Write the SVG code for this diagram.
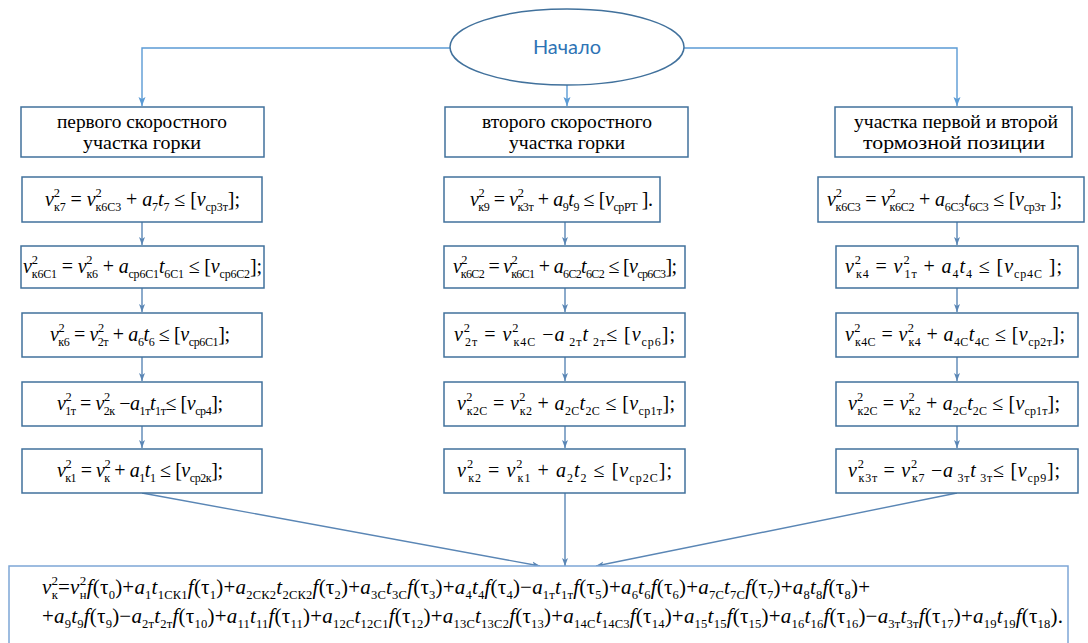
<svg xmlns="http://www.w3.org/2000/svg" width="1088" height="643" viewBox="0 0 1088 643">
<style>
.bx{fill:#fff;stroke:#41719c;stroke-width:1.5}
.hd{font-family:'Liberation Serif','DejaVu Serif','Noto Serif',serif;font-size:19px;fill:#000;text-anchor:middle}
.m{font-family:'Liberation Serif','DejaVu Serif','Noto Serif',serif;font-size:20px;fill:#000}
.mb{font-family:'Liberation Serif','DejaVu Serif','Noto Serif',serif;font-size:21px;fill:#000}
.i{font-style:italic}
.b{font-size:0.6em}
.p{font-size:0.62em}
.c1{fill:none;stroke:#5b9bd5;stroke-width:1.4}
.c2{fill:none;stroke:#5a86b5;stroke-width:1.4}
</style>
<defs>
<marker id="a1" markerWidth="10" markerHeight="8" refX="9" refY="4" orient="auto" markerUnits="userSpaceOnUse"><path d="M0,0.5 L9,4 L0,7.5 L2,4 z" fill="#5b9bd5"/></marker>
<marker id="a2" markerWidth="9" markerHeight="7" refX="8" refY="3.5" orient="auto" markerUnits="userSpaceOnUse"><path d="M0,0.5 L8,3.5 L0,6.5 L2,3.5 z" fill="#5a86b5"/></marker>
</defs>

<g id="connectors">
<path class="c1" d="M450,48 H142 V106" marker-end="url(#a1)"/>
<path class="c1" d="M567,85 V106" marker-end="url(#a1)"/>
<path class="c1" d="M684,48 H957 V106" marker-end="url(#a1)"/>
<path class="c2" d="M142,222 V245" marker-end="url(#a2)"/>
<path class="c2" d="M142,288 V312" marker-end="url(#a2)"/>
<path class="c2" d="M142,357 V381" marker-end="url(#a2)"/>
<path class="c2" d="M142,426 V448" marker-end="url(#a2)"/>
<path class="c2" d="M565,222 V245" marker-end="url(#a2)"/>
<path class="c2" d="M565,288 V312" marker-end="url(#a2)"/>
<path class="c2" d="M565,357 V381" marker-end="url(#a2)"/>
<path class="c2" d="M565,426 V448" marker-end="url(#a2)"/>
<path class="c2" d="M957,222 V245" marker-end="url(#a2)"/>
<path class="c2" d="M957,288 V312" marker-end="url(#a2)"/>
<path class="c2" d="M957,357 V381" marker-end="url(#a2)"/>
<path class="c2" d="M957,426 V448" marker-end="url(#a2)"/>
<path class="c2" d="M142,493 L540,566" marker-end="url(#a2)"/>
<path class="c2" d="M565,493 V566" marker-end="url(#a2)"/>
<path class="c2" d="M957,493 L596,566" marker-end="url(#a2)"/>
</g>

<g id="start">
<ellipse cx="567" cy="47" rx="117" ry="38" fill="#fff" stroke="#41719c" stroke-width="1.5"/>
<text x="567" y="54" text-anchor="middle" font-family="Lato,'Open Sans',sans-serif" font-size="20" fill="#2e74b5">Начало</text>
</g>

<g id="h1"><rect class="bx" x="21" y="107" width="243" height="50"/>
<text class="hd" x="142" y="128" textLength="170" lengthAdjust="spacingAndGlyphs">первого скоростного</text>
<text class="hd" x="142" y="149" textLength="118" lengthAdjust="spacingAndGlyphs">участка горки</text></g>
<g id="h2"><rect class="bx" x="445" y="107" width="243" height="50"/>
<text class="hd" x="567" y="128" textLength="170" lengthAdjust="spacingAndGlyphs">второго скоростного</text>
<text class="hd" x="567" y="149" textLength="116" lengthAdjust="spacingAndGlyphs">участка горки</text></g>
<g id="h3"><rect class="bx" x="835" y="107" width="237" height="50"/>
<text class="hd" x="956" y="128" textLength="204" lengthAdjust="spacingAndGlyphs">участка первой и второй</text>
<text class="hd" x="954" y="149" textLength="182" lengthAdjust="spacingAndGlyphs">тормозной позиции</text></g>

<g id="L1"><rect class="bx" x="22" y="177" width="240" height="45"/>
<text class="m" x="45" y="206" textLength="195"><tspan class="i">v</tspan><tspan class="p" dy="-9">2</tspan><tspan class="b" dx="-6" dy="14">к7</tspan><tspan dy="-5"> = </tspan><tspan class="i">v</tspan><tspan class="p" dy="-9">2</tspan><tspan class="b" dx="-6" dy="14">к6С3</tspan><tspan dy="-5"> + </tspan><tspan class="i">a</tspan><tspan class="b" dy="5">7</tspan><tspan class="i" dy="-5">t</tspan><tspan class="b" dy="5">7</tspan><tspan dy="-5"> ≤ [</tspan><tspan class="i">v</tspan><tspan class="b" dy="5">ср3т</tspan><tspan dy="-5">];</tspan></text></g>

<g id="L2"><rect class="bx" x="21" y="246" width="243" height="42"/>
<text class="m" x="23" y="273" textLength="239"><tspan class="i">v</tspan><tspan class="p" dy="-9">2</tspan><tspan class="b" dx="-6" dy="14">к6С1</tspan><tspan dy="-5"> = </tspan><tspan class="i">v</tspan><tspan class="p" dy="-9">2</tspan><tspan class="b" dx="-6" dy="14">к6</tspan><tspan dy="-5"> + </tspan><tspan class="i">a</tspan><tspan class="b" dy="5">ср6С1</tspan><tspan class="i" dy="-5">t</tspan><tspan class="b" dy="5">6С1</tspan><tspan dy="-5"> ≤ [</tspan><tspan class="i">v</tspan><tspan class="b" dy="5">ср6С2</tspan><tspan dy="-5">];</tspan></text></g>

<g id="L3"><rect class="bx" x="22" y="313" width="240" height="44"/>
<text class="m" x="50" y="341" textLength="180"><tspan class="i">v</tspan><tspan class="p" dy="-9">2</tspan><tspan class="b" dx="-6" dy="14">к6</tspan><tspan dy="-5"> = </tspan><tspan class="i">v</tspan><tspan class="p" dy="-9">2</tspan><tspan class="b" dx="-6" dy="14">2т</tspan><tspan dy="-5"> + </tspan><tspan class="i">a</tspan><tspan class="b" dy="5">6</tspan><tspan class="i" dy="-5">t</tspan><tspan class="b" dy="5">6</tspan><tspan dy="-5"> ≤ [</tspan><tspan class="i">v</tspan><tspan class="b" dy="5">ср6С1</tspan><tspan dy="-5">];</tspan></text></g>

<g id="L4"><rect class="bx" x="22" y="382" width="240" height="44"/>
<text class="m" x="57" y="410" textLength="166"><tspan class="i">v</tspan><tspan class="p" dy="-9">2</tspan><tspan class="b" dx="-6" dy="14">1т</tspan><tspan dy="-5"> = </tspan><tspan class="i">v</tspan><tspan class="p" dy="-9">2</tspan><tspan class="b" dx="-6" dy="14">2к</tspan><tspan dy="-5"> −</tspan><tspan class="i">a</tspan><tspan class="b" dy="5">1т</tspan><tspan class="i" dy="-5">t</tspan><tspan class="b" dy="5">1т</tspan><tspan dy="-5">≤ [</tspan><tspan class="i">v</tspan><tspan class="b" dy="5">ср4</tspan><tspan dy="-5">];</tspan></text></g>

<g id="L5"><rect class="bx" x="22" y="449" width="240" height="44"/>
<text class="m" x="57" y="477" textLength="166"><tspan class="i">v</tspan><tspan class="p" dy="-9">2</tspan><tspan class="b" dx="-6" dy="14">к1</tspan><tspan dy="-5"> = </tspan><tspan class="i">v</tspan><tspan class="p" dy="-9">2</tspan><tspan class="b" dx="-6" dy="14">к</tspan><tspan dy="-5"> + </tspan><tspan class="i">a</tspan><tspan class="b" dy="5">1</tspan><tspan class="i" dy="-5">t</tspan><tspan class="b" dy="5">1</tspan><tspan dy="-5"> ≤ [</tspan><tspan class="i">v</tspan><tspan class="b" dy="5">ср2к</tspan><tspan dy="-5">];</tspan></text></g>

<g id="M1"><rect class="bx" x="444" y="177" width="216" height="45"/>
<text class="m" x="470" y="206" textLength="183"><tspan class="i">v</tspan><tspan class="p" dy="-9">2</tspan><tspan class="b" dx="-6" dy="14">к9</tspan><tspan dy="-5"> = </tspan><tspan class="i">v</tspan><tspan class="p" dy="-9">2</tspan><tspan class="b" dx="-6" dy="14">к3т</tspan><tspan dy="-5"> + </tspan><tspan class="i">a</tspan><tspan class="b" dy="5">9</tspan><tspan class="i" dy="-5">t</tspan><tspan class="b" dy="5">9</tspan><tspan dy="-5"> ≤ [</tspan><tspan class="i">v</tspan><tspan class="b" dy="5">срРТ</tspan><tspan dy="-5"> ].</tspan></text></g>

<g id="M2"><rect class="bx" x="444" y="246" width="241" height="42"/>
<text class="m" x="453" y="273" textLength="224"><tspan class="i">v</tspan><tspan class="p" dy="-9">2</tspan><tspan class="b" dx="-6" dy="14">к6С2</tspan><tspan dy="-5"> = </tspan><tspan class="i">v</tspan><tspan class="p" dy="-9">2</tspan><tspan class="b" dx="-6" dy="14">к6С1</tspan><tspan dy="-5"> + </tspan><tspan class="i">a</tspan><tspan class="b" dy="5">6С2</tspan><tspan class="i" dy="-5">t</tspan><tspan class="b" dy="5">6С2</tspan><tspan dy="-5"> ≤ [</tspan><tspan class="i">v</tspan><tspan class="b" dy="5">ср6С3</tspan><tspan dy="-5">];</tspan></text></g>

<g id="M3"><rect class="bx" x="444" y="313" width="241" height="44"/>
<text class="m" x="454" y="341" textLength="221"><tspan class="i">v</tspan><tspan class="p" dy="-9">2</tspan><tspan class="b" dx="-6" dy="14">2т</tspan><tspan dy="-5"> = </tspan><tspan class="i">v</tspan><tspan class="p" dy="-9">2</tspan><tspan class="b" dx="-6" dy="14">к4С</tspan><tspan dy="-5"> −</tspan><tspan class="i">a</tspan><tspan class="b" dy="5"> 2т</tspan><tspan class="i" dy="-5">t</tspan><tspan class="b" dy="5"> 2т</tspan><tspan dy="-5">≤ [</tspan><tspan class="i">v</tspan><tspan class="b" dy="5">ср6</tspan><tspan dy="-5">];</tspan></text></g>

<g id="M4"><rect class="bx" x="444" y="382" width="241" height="44"/>
<text class="m" x="457" y="410" textLength="218"><tspan class="i">v</tspan><tspan class="p" dy="-9">2</tspan><tspan class="b" dx="-6" dy="14">к2С</tspan><tspan dy="-5"> = </tspan><tspan class="i">v</tspan><tspan class="p" dy="-9">2</tspan><tspan class="b" dx="-6" dy="14">к2</tspan><tspan dy="-5"> + </tspan><tspan class="i">a</tspan><tspan class="b" dy="5">2С</tspan><tspan class="i" dy="-5">t</tspan><tspan class="b" dy="5">2С</tspan><tspan dy="-5"> ≤ [</tspan><tspan class="i">v</tspan><tspan class="b" dy="5">ср1т</tspan><tspan dy="-5">];</tspan></text></g>

<g id="M5"><rect class="bx" x="444" y="449" width="241" height="44"/>
<text class="m" x="457" y="477" textLength="215"><tspan class="i">v</tspan><tspan class="p" dy="-9">2</tspan><tspan class="b" dx="-6" dy="14">к2</tspan><tspan dy="-5"> = </tspan><tspan class="i">v</tspan><tspan class="p" dy="-9">2</tspan><tspan class="b" dx="-6" dy="14">к1</tspan><tspan dy="-5"> + </tspan><tspan class="i">a</tspan><tspan class="b" dy="5">2</tspan><tspan class="i" dy="-5">t</tspan><tspan class="b" dy="5">2</tspan><tspan dy="-5"> ≤ [</tspan><tspan class="i">v</tspan><tspan class="b" dy="5">ср2С</tspan><tspan dy="-5">];</tspan></text></g>

<g id="R1"><rect class="bx" x="818" y="177" width="266" height="45"/>
<text class="m" x="827" y="206" textLength="235"><tspan class="i">v</tspan><tspan class="p" dy="-9">2</tspan><tspan class="b" dx="-6" dy="14">к6С3</tspan><tspan dy="-5"> = </tspan><tspan class="i">v</tspan><tspan class="p" dy="-9">2</tspan><tspan class="b" dx="-6" dy="14">к6С2</tspan><tspan dy="-5"> + </tspan><tspan class="i">a</tspan><tspan class="b" dy="5">6С3</tspan><tspan class="i" dy="-5">t</tspan><tspan class="b" dy="5">6С3</tspan><tspan dy="-5"> ≤ [</tspan><tspan class="i">v</tspan><tspan class="b" dy="5">ср3т</tspan><tspan dy="-5"> ];</tspan></text></g>

<g id="R2"><rect class="bx" x="836" y="246" width="242" height="42"/>
<text class="m" x="845" y="273" textLength="217"><tspan class="i">v</tspan><tspan class="p" dy="-9">2</tspan><tspan class="b" dx="-6" dy="14">к4</tspan><tspan dy="-5"> = </tspan><tspan class="i">v</tspan><tspan class="p" dy="-9">2</tspan><tspan class="b" dx="-6" dy="14">1т</tspan><tspan dy="-5"> + </tspan><tspan class="i">a</tspan><tspan class="b" dy="5">4</tspan><tspan class="i" dy="-5">t</tspan><tspan class="b" dy="5">4</tspan><tspan dy="-5"> ≤ [</tspan><tspan class="i">v</tspan><tspan class="b" dy="5">ср4С</tspan><tspan dy="-5"> ];</tspan></text></g>

<g id="R3"><rect class="bx" x="836" y="313" width="242" height="44"/>
<text class="m" x="845" y="341" textLength="220"><tspan class="i">v</tspan><tspan class="p" dy="-9">2</tspan><tspan class="b" dx="-6" dy="14">к4С</tspan><tspan dy="-5"> = </tspan><tspan class="i">v</tspan><tspan class="p" dy="-9">2</tspan><tspan class="b" dx="-6" dy="14">к4</tspan><tspan dy="-5"> + </tspan><tspan class="i">a</tspan><tspan class="b" dy="5">4С</tspan><tspan class="i" dy="-5">t</tspan><tspan class="b" dy="5">4С</tspan><tspan dy="-5"> ≤ [</tspan><tspan class="i">v</tspan><tspan class="b" dy="5">ср2т</tspan><tspan dy="-5">];</tspan></text></g>

<g id="R4"><rect class="bx" x="836" y="382" width="242" height="44"/>
<text class="m" x="848" y="410" textLength="212"><tspan class="i">v</tspan><tspan class="p" dy="-9">2</tspan><tspan class="b" dx="-6" dy="14">к2С</tspan><tspan dy="-5"> = </tspan><tspan class="i">v</tspan><tspan class="p" dy="-9">2</tspan><tspan class="b" dx="-6" dy="14">к2</tspan><tspan dy="-5"> + </tspan><tspan class="i">a</tspan><tspan class="b" dy="5">2С</tspan><tspan class="i" dy="-5">t</tspan><tspan class="b" dy="5">2С</tspan><tspan dy="-5"> ≤ [</tspan><tspan class="i">v</tspan><tspan class="b" dy="5">ср1т</tspan><tspan dy="-5">];</tspan></text></g>

<g id="R5"><rect class="bx" x="836" y="449" width="242" height="44"/>
<text class="m" x="848" y="477" textLength="212"><tspan class="i">v</tspan><tspan class="p" dy="-9">2</tspan><tspan class="b" dx="-6" dy="14">к3т</tspan><tspan dy="-5"> = </tspan><tspan class="i">v</tspan><tspan class="p" dy="-9">2</tspan><tspan class="b" dx="-6" dy="14">к7</tspan><tspan dy="-5"> −</tspan><tspan class="i">a</tspan><tspan class="b" dy="5"> 3т</tspan><tspan class="i" dy="-5">t</tspan><tspan class="b" dy="5"> 3т</tspan><tspan dy="-5">≤ [</tspan><tspan class="i">v</tspan><tspan class="b" dy="5">ср9</tspan><tspan dy="-5">];</tspan></text></g>

<g id="result"><rect x="9" y="566" width="1059" height="90" fill="#fff" stroke="#7ea6d6" stroke-width="1.5"/>
<text class="mb" x="42" y="594" textLength="828"><tspan class="i">v</tspan><tspan class="p" dy="-9">2</tspan><tspan class="b" dx="-6.5" dy="14">к</tspan><tspan dy="-5">=</tspan><tspan class="i">v</tspan><tspan class="p" dy="-9">2</tspan><tspan class="b" dx="-6.5" dy="14">н</tspan><tspan class="i" dy="-5">f</tspan><tspan>(τ</tspan><tspan class="b" dy="5">0</tspan><tspan dy="-5">)+</tspan><tspan class="i">a</tspan><tspan class="b" dy="5">1</tspan><tspan class="i" dy="-5">t</tspan><tspan class="b" dy="5">1СК1</tspan><tspan class="i" dy="-5">f</tspan><tspan>(τ</tspan><tspan class="b" dy="5">1</tspan><tspan dy="-5">)+</tspan><tspan class="i">a</tspan><tspan class="b" dy="5">2СК2</tspan><tspan class="i" dy="-5">t</tspan><tspan class="b" dy="5">2СК2</tspan><tspan class="i" dy="-5">f</tspan><tspan>(τ</tspan><tspan class="b" dy="5">2</tspan><tspan dy="-5">)+</tspan><tspan class="i">a</tspan><tspan class="b" dy="5">3С</tspan><tspan class="i" dy="-5">t</tspan><tspan class="b" dy="5">3С</tspan><tspan class="i" dy="-5">f</tspan><tspan>(τ</tspan><tspan class="b" dy="5">3</tspan><tspan dy="-5">)+</tspan><tspan class="i">a</tspan><tspan class="b" dy="5">4</tspan><tspan class="i" dy="-5">t</tspan><tspan class="b" dy="5">4</tspan><tspan class="i" dy="-5">f</tspan><tspan>(τ</tspan><tspan class="b" dy="5">4</tspan><tspan dy="-5">)−</tspan><tspan class="i">a</tspan><tspan class="b" dy="5">1т</tspan><tspan class="i" dy="-5">t</tspan><tspan class="b" dy="5">1т</tspan><tspan class="i" dy="-5">f</tspan><tspan>(τ</tspan><tspan class="b" dy="5">5</tspan><tspan dy="-5">)+</tspan><tspan class="i">a</tspan><tspan class="b" dy="5">6</tspan><tspan class="i" dy="-5">t</tspan><tspan class="b" dy="5">6</tspan><tspan class="i" dy="-5">f</tspan><tspan>(τ</tspan><tspan class="b" dy="5">6</tspan><tspan dy="-5">)+</tspan><tspan class="i">a</tspan><tspan class="b" dy="5">7С</tspan><tspan class="i" dy="-5">t</tspan><tspan class="b" dy="5">7С</tspan><tspan class="i" dy="-5">f</tspan><tspan>(τ</tspan><tspan class="b" dy="5">7</tspan><tspan dy="-5">)+</tspan><tspan class="i">a</tspan><tspan class="b" dy="5">8</tspan><tspan class="i" dy="-5">t</tspan><tspan class="b" dy="5">8</tspan><tspan class="i" dy="-5">f</tspan><tspan>(τ</tspan><tspan class="b" dy="5">8</tspan><tspan dy="-5">)+</tspan></text>
<text class="mb" x="42" y="623" textLength="1021"><tspan>+</tspan><tspan class="i">a</tspan><tspan class="b" dy="5">9</tspan><tspan class="i" dy="-5">t</tspan><tspan class="b" dy="5">9</tspan><tspan class="i" dy="-5">f</tspan><tspan>(τ</tspan><tspan class="b" dy="5">9</tspan><tspan dy="-5">)−</tspan><tspan class="i">a</tspan><tspan class="b" dy="5">2т</tspan><tspan class="i" dy="-5">t</tspan><tspan class="b" dy="5">2т</tspan><tspan class="i" dy="-5">f</tspan><tspan>(τ</tspan><tspan class="b" dy="5">10</tspan><tspan dy="-5">)+</tspan><tspan class="i">a</tspan><tspan class="b" dy="5">11</tspan><tspan class="i" dy="-5">t</tspan><tspan class="b" dy="5">11</tspan><tspan class="i" dy="-5">f</tspan><tspan>(τ</tspan><tspan class="b" dy="5">11</tspan><tspan dy="-5">)+</tspan><tspan class="i">a</tspan><tspan class="b" dy="5">12С</tspan><tspan class="i" dy="-5">t</tspan><tspan class="b" dy="5">12С1</tspan><tspan class="i" dy="-5">f</tspan><tspan>(τ</tspan><tspan class="b" dy="5">12</tspan><tspan dy="-5">)+</tspan><tspan class="i">a</tspan><tspan class="b" dy="5">13С</tspan><tspan class="i" dy="-5">t</tspan><tspan class="b" dy="5">13С2</tspan><tspan class="i" dy="-5">f</tspan><tspan>(τ</tspan><tspan class="b" dy="5">13</tspan><tspan dy="-5">)+</tspan><tspan class="i">a</tspan><tspan class="b" dy="5">14С</tspan><tspan class="i" dy="-5">t</tspan><tspan class="b" dy="5">14С3</tspan><tspan class="i" dy="-5">f</tspan><tspan>(τ</tspan><tspan class="b" dy="5">14</tspan><tspan dy="-5">)+</tspan><tspan class="i">a</tspan><tspan class="b" dy="5">15</tspan><tspan class="i" dy="-5">t</tspan><tspan class="b" dy="5">15</tspan><tspan class="i" dy="-5">f</tspan><tspan>(τ</tspan><tspan class="b" dy="5">15</tspan><tspan dy="-5">)+</tspan><tspan class="i">a</tspan><tspan class="b" dy="5">16</tspan><tspan class="i" dy="-5">t</tspan><tspan class="b" dy="5">16</tspan><tspan class="i" dy="-5">f</tspan><tspan>(τ</tspan><tspan class="b" dy="5">16</tspan><tspan dy="-5">)−</tspan><tspan class="i">a</tspan><tspan class="b" dy="5">3т</tspan><tspan class="i" dy="-5">t</tspan><tspan class="b" dy="5">3т</tspan><tspan class="i" dy="-5">f</tspan><tspan>(τ</tspan><tspan class="b" dy="5">17</tspan><tspan dy="-5">)+</tspan><tspan class="i">a</tspan><tspan class="b" dy="5">19</tspan><tspan class="i" dy="-5">t</tspan><tspan class="b" dy="5">19</tspan><tspan class="i" dy="-5">f</tspan><tspan>(τ</tspan><tspan class="b" dy="5">18</tspan><tspan dy="-5">).</tspan></text>
</g>
</svg>
